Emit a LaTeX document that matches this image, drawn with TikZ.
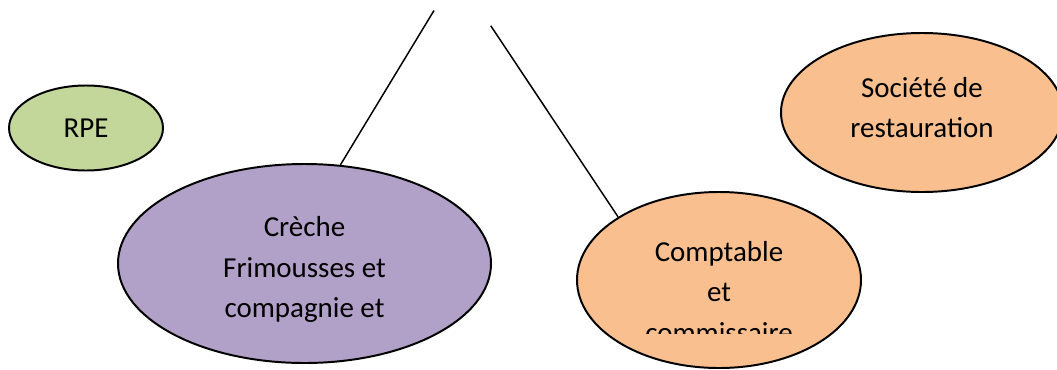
\documentclass[tikz,border=0pt]{standalone}
\usepackage{fontspec}
\setmainfont{Carlito}
\usepackage{tikz}
\usetikzlibrary{shapes}
\usetikzlibrary{shapes.geometric}

\definecolor{rpegreen}{HTML}{C4D79B}
\definecolor{crechepurple}{HTML}{B1A0C7}
\definecolor{peach}{HTML}{F9BF8F}

\tikzset{
  bubble/.style={draw, ellipse, line width=1.4pt, inner sep=0pt},
  bubbletext/.style={align=center, inner sep=0pt, font=\fontsize{20.6}{28.8}\selectfont}
}

\begin{document}
\begin{tikzpicture}
        \useasboundingbox (0, 0) rectangle (26.425, 9.225);
        \node[bubble, fill=rpegreen, minimum width=3.85cm, minimum height=2.125cm] (rpe) at (2.15, 6.025) {};
        \node[bubble, fill=crechepurple, minimum width=9.325cm, minimum height=4.975cm] (creche) at (7.6125, 2.6375) {};
        \node[bubble, fill=peach, minimum width=7.1cm, minimum height=4.4cm] (comptable) at (17.975, 2.225) {};
        \node[bubble, fill=peach, minimum width=7.05cm, minimum height=3.975cm] (societe) at (23.05, 6.4125) {};
        \node[bubbletext] (rpetext) at (rpe) {RPE};
        \node[bubbletext, yshift=-0.15cm] (crechetext) at (creche) {Crèche\\Frimousses et\\compagnie et};
        \node[bubbletext, yshift=0.13cm] (societetext) at (societe) {Société de\\restauration};
        \begin{scope}
          \clip (15, 0.9) rectangle (21, 9);
          \node[bubbletext, yshift=-0.3cm] (comptabletext) at (comptable) {Comptable\\et\\commissaire};
        \end{scope}
        \coordinate (top1) at (10.85, 8.9625);
        \coordinate (top2) at (12.2675, 8.5825);
        \draw[line width=1.05pt] (top1) -- (creche.70.5);
        \draw[line width=1.05pt] (top2) -- (comptable.148);
      \end{tikzpicture}
\end{document}
